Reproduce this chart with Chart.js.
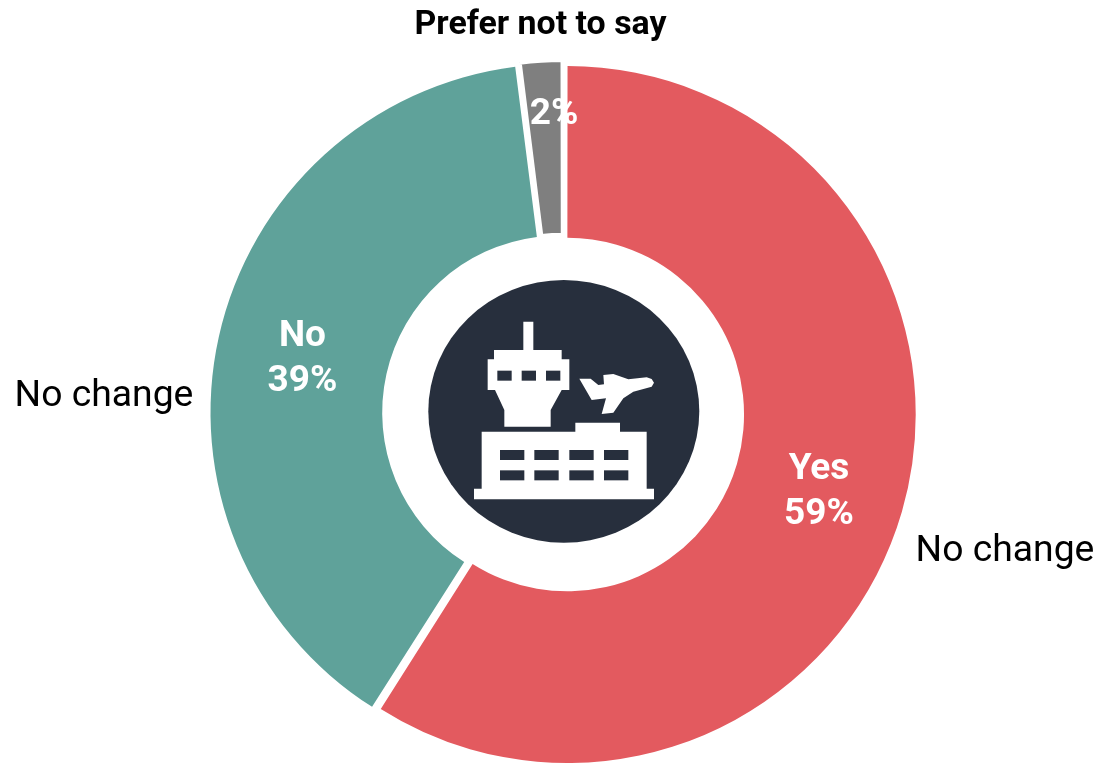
<!DOCTYPE html>
<html>
<head>
<meta charset="utf-8">
<title>Airport survey</title>
<script src="https://cdn.jsdelivr.net/npm/chart.js@4"></script>
<style>
  html, body { margin: 0; padding: 0; background: #fff; }
  #wrap { position: relative; width: 1096px; height: 764px; overflow: hidden; }
  #wrap div.box { position: absolute; left: 0; top: 0; width: 1096px; height: 790px; }
</style>
</head>
<body>
<div id="wrap"><div class="box"><canvas id="donut"></canvas></div></div>
<script>
const categories = ['Yes', 'No', 'Prefer not to say'];
const shares = [59, 39, 2];
const sliceColors = ['#e35a5f', '#5fa29a', '#7f7f7f'];
// chart.js scales offset differently depending on arc length, so each slice gets its own
const sliceOffsets = [8, 24.8, 15.9];
const sliceBorders = [0, 0, 4];

const sideLabels = [
  { text: 'No change', x: 1005, y: 552 },
  { text: 'No change', x: 104, y: 397 }
];
const topLabel = { text: categories[2], x: 540.5, y: 26 };
const insideLabels = [
  { lines: [categories[0], shares[0] + '%'], x: 819, y: 470 },
  { lines: [categories[1], shares[1] + '%'], x: 302.5, y: 337 },
  { lines: [shares[2] + '%'], x: 554, y: 115 }
];

// white terminal + plane, drawn on a 3x grid around the middle of the badge
function drawIcon(ctx) {
  const poly = pts => {
    ctx.beginPath();
    pts.forEach((p, i) => i ? ctx.lineTo(p[0], p[1]) : ctx.moveTo(p[0], p[1]));
    ctx.closePath();
    ctx.fill();
  };
  ctx.fillStyle = '#fff';
  poly([[310,155],[340,155],[340,240],[425,240],[425,268],[448,268],[448,360],[425,360],[392,420],[392,470],
    [253,470],[253,420],[225,360],[203,360],[203,268],[222,268],[222,240],[310,240]]);
  poly([[185,485],[466,485],[466,458],[600,458],[600,485],[680,485],[680,656],[702,656],[702,688],
    [162,688],[162,656],[185,656]]);
  poly([[478,326],[512,326],[535,345],[552,343],[550,315],[580,312],[625,328],[680,322],[695,327],[702,338],
    [695,350],[640,365],[610,385],[580,428],[545,432],[558,385],[515,390]]);

  ctx.fillStyle = '#272f3d';
  [232, 305, 378].forEach(x => ctx.fillRect(x, 302, 43, 30));
  [240, 343, 448, 552].forEach(x => {
    ctx.fillRect(x, 540, 73, 30);
    ctx.fillRect(x, 601, 73, 30);
  });
}

// the thin slice sits a little left of the ring centre and reaches further in
const nudgeSmallSlice = {
  id: 'nudgeSmallSlice',
  afterDatasetUpdate(chart) {
    const arc = chart.getDatasetMeta(0).data[2];
    arc.x -= 2;
    arc.innerRadius -= 3;
  }
};

const overlay = {
  id: 'overlay',
  afterDraw(chart) {
    const ctx = chart.ctx;
    ctx.save();

    // badge in the hole
    ctx.fillStyle = '#272f3d';
    ctx.beginPath();
    ctx.ellipse(563.8, 411.3, 135.5, 131.4, 0, 0, Math.PI * 2);
    ctx.fill();
    ctx.save();
    ctx.translate(420, 270);
    ctx.scale(1 / 3, 1 / 3);
    drawIcon(ctx);
    ctx.restore();

    ctx.textAlign = 'center';
    ctx.textBaseline = 'middle';

    ctx.fillStyle = '#fff';
    ctx.font = 'bold 37px Roboto';
    insideLabels.forEach(l => {
      l.lines.forEach((line, i) => ctx.fillText(line, l.x, l.y + i * 45));
    });

    ctx.fillStyle = '#000';
    ctx.font = '37.3px Roboto';
    sideLabels.forEach(l => ctx.fillText(l.text, l.x, l.y));

    ctx.font = 'bold 33.9px Roboto';
    ctx.fillText(topLabel.text, topLabel.x, topLabel.y);
    ctx.restore();
  }
};

new Chart(document.getElementById('donut'), {
  type: 'doughnut',
  data: {
    labels: categories,
    datasets: [{
      data: shares,
      backgroundColor: sliceColors,
      offset: sliceOffsets,
      borderColor: '#fff',
      borderWidth: sliceBorders
    }]
  },
  options: {
    responsive: true,
    maintainAspectRatio: false,
    animation: false,
    cutout: '50.45%',
    layout: { padding: { left: 204.4, top: 53.05, right: 169.8, bottom: 15.15 } },
    plugins: { legend: { display: false }, tooltip: { enabled: false } }
  },
  plugins: [nudgeSmallSlice, overlay]
});
</script>
</body>
</html>
